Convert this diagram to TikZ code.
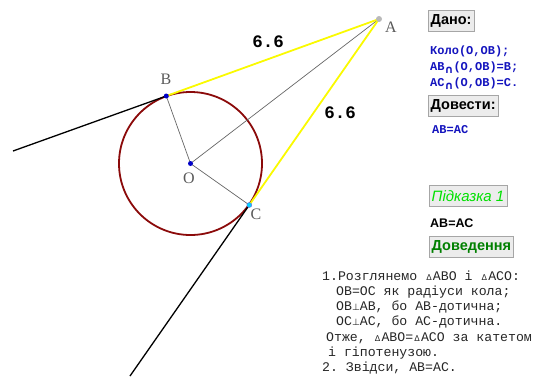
\documentclass[tikz,border=0pt]{standalone}
\usepackage{fontspec}
\setmainfont{Liberation Serif}
\setsansfont{Liberation Sans}
\setmonofont{Liberation Mono}
\newfontfamily\dvs{DejaVu Sans}
\definecolor{circred}{RGB}{139,10,10}
\definecolor{yel}{RGB}{250,250,0}
\definecolor{ptblue}{RGB}{0,0,200}
\definecolor{ptcyan}{RGB}{0,210,255}
\definecolor{txtblue}{RGB}{20,20,190}
\definecolor{btnfill}{RGB}{236,236,236}
\definecolor{hintgreen}{RGB}{0,225,0}
\definecolor{proofgreen}{RGB}{0,128,0}
\definecolor{lblgray}{RGB}{90,90,90}
\newcommand{\tri}{\makebox[7.8pt]{\fontsize{8}{8}\selectfont\dvs Δ}}
\newcommand{\prp}{\makebox[7.8pt]{\fontsize{9}{9}\selectfont\dvs ⊥}}
\newcommand{\cp}{\raisebox{-3pt}{\fontsize{11}{11}\selectfont\dvs ∩}}
\begin{document}
\begin{tikzpicture}[x=1pt,y=-1pt,
  ptlbl/.style={font=\fontsize{16}{16}\selectfont\rmfamily, text=lblgray, inner sep=0pt},
  meas/.style={font=\fontsize{17.5}{17.5}\selectfont\ttfamily\bfseries, inner sep=0pt},
  btn/.style={draw=gray!70, fill=btnfill, minimum height=21, inner xsep=2.5pt, inner ysep=0pt, anchor=west, font=\fontsize{14.5}{14.5}\selectfont\sffamily\bfseries},
  bluetxt/.style={anchor=base west, inner sep=0pt, text=txtblue, font=\fontsize{12}{12}\selectfont\ttfamily\bfseries},
  prooftxt/.style={anchor=base west, inner sep=0pt, text=black!85, font=\fontsize{13.2}{13.2}\selectfont\ttfamily},
  dot/.style={circle, inner sep=0pt, minimum size=5}
]
\useasboundingbox (0,0) rectangle (537,376);
% points
\coordinate (O) at (190.5,163.5);
\coordinate (B) at (166.3,96);
\coordinate (C) at (249.3,205);
\coordinate (A) at (379,19);
\coordinate (L1) at (13,151);
\coordinate (L2) at (130,376);
% circle
\draw[circred, line width=1.8] (O) circle (71.5);
% segments
\draw[black!60, line width=0.7] (O) -- (A);
\draw[black!60, line width=0.7] (O) -- (B);
\draw[black!60, line width=0.7] (O) -- (C);
\draw[black, line width=1.3] (B) -- (L1);
\draw[black, line width=1.3] (C) -- (L2);
\draw[yel, line width=1.8] (B) -- (A);
\draw[yel, line width=1.8] (C) -- (A);
% dots
\node[dot, fill=ptblue] (pB) at (B) {};
\node[dot, fill=ptblue] (pO) at (O) {};
\node[dot, fill=ptcyan, draw=ptblue!60, line width=0.4] (pC) at (C) {};
\node[dot, fill=gray!55, minimum size=6] (pA) at (A) {};
% labels
\node[ptlbl] (lB) at (166,79) {B};
\node[ptlbl] (lO) at (189,178) {O};
\node[ptlbl] (lC) at (256,214) {C};
\node[ptlbl] (lA) at (391,27) {A};
\node[meas] (m1) at (268,42) {6.6};
\node[meas] (m2) at (340,113) {6.6};
% right panel
\node[btn] (dano) at (428,21) {Дано:};
\node[bluetxt] (g1) at (430,54) {Коло(О,ОВ);};
\node[bluetxt] (g2) at (430,70) {АВ\cp(О,ОВ)=В;};
\node[bluetxt] (g3) at (430,86) {АС\cp(О,ОВ)=С.};
\node[btn] (dov) at (428,106) {Довести:};
\node[bluetxt] (g4) at (432,133) {АВ=АС};
\node[btn, text=hintgreen, font=\fontsize{15}{15}\selectfont\sffamily\itshape] (hint) at (429,196) {Підказка 1};
\node[anchor=base west, inner sep=0pt, font=\fontsize{12.5}{12.5}\selectfont\sffamily\bfseries] (h1) at (430,227) {АВ=АС};
\node[btn, text=proofgreen] (proof) at (429,247) {Доведення};
% proof text
\node[prooftxt] (p1) at (322,280) {1.Розглянемо \tri АВО і \tri АСО:};
\node[prooftxt] (p2) at (336,295.3) {ОВ=ОС як радіуси кола;};
\node[prooftxt] (p3) at (336,310.6) {ОВ\prp АВ, бо АВ-дотична;};
\node[prooftxt] (p4) at (336,325.9) {ОС\prp АС, бо АС-дотична.};
\node[prooftxt] (p5) at (326,341.2) {Отже, \tri АВО=\tri АСО за катетом};
\node[prooftxt] (p6) at (328,356.5) {і гіпотенузою.};
\node[prooftxt] (p7) at (322,371.8) {2. Звідси, АВ=АС.};
\end{tikzpicture}
\end{document}
